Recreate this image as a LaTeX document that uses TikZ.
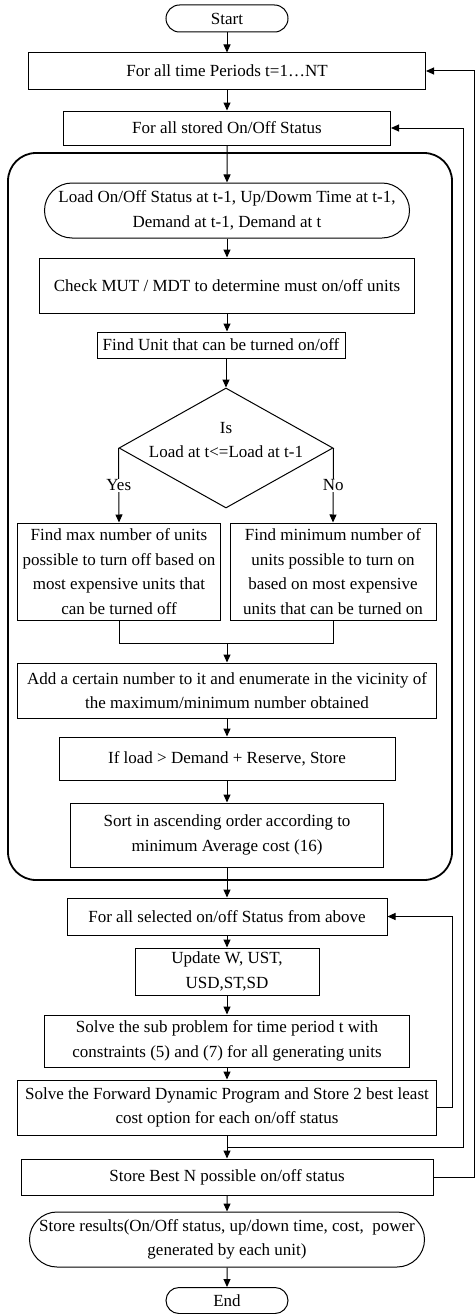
\documentclass[tikz,border=0pt]{standalone}
\usepackage{fontspec}
\setmainfont{Liberation Serif}
\usetikzlibrary{shapes.geometric, shapes.misc, arrows.meta}

\begin{document}
\begin{tikzpicture}[x=1pt, y=-1pt, >={Triangle[length=8pt, width=7pt]}, line width=1pt,
    txt/.style={font=\fontsize{17}{24.5}\selectfont},
    procbox/.style={draw, rectangle, align=center, inner sep=0pt, txt},
    term/.style={procbox, rounded rectangle},
    decision/.style={draw, diamond, inner sep=0pt, minimum width=214pt, minimum height=120pt},
    lbl/.style={fill=white, inner sep=1pt, txt}]
    \useasboundingbox (0,0) rectangle (475,1314);

    % Outer loops
    \node[term, minimum width=122pt, minimum height=27pt] (start) at (227,18.5) {Start};
    \node[procbox, minimum width=397pt, minimum height=36pt] (periods) at (227,71) {For all time Periods t=1\dots NT};
    \node[procbox, minimum width=327pt, minimum height=34pt] (stored) at (227,128) {For all stored On/Off Status};

    % Frame
    \draw[line width=1.8pt, rounded corners=28pt] (8,153) rectangle (452,880);

    % Inside the frame
    \node[term, minimum width=365pt, minimum height=55pt] (load) at (227,210.5) {Load On/Off Status at t-1, Up/Dowm Time at t-1,\\ Demand at t-1, Demand at t};
    \node[procbox, minimum width=375pt, minimum height=55pt] (check) at (227,285.5) {Check MUT / MDT to determine must on/off units};
    \node[procbox, minimum width=248pt, minimum height=26pt] (unit) at (221,345) {Find Unit that can be turned on/off};
    \node[decision] (dec) at (226,448) {};
    \node[align=center, txt] (decTxt) at (226,440) {Is\\ Load at t<=Load at t-1};
    \node[procbox, minimum width=203pt, minimum height=97pt] (yes) at (119,571.5) {Find max number of units\\ possible to turn off based on\\ most expensive units that\\ can be turned off};
    \node[procbox, minimum width=206pt, minimum height=97pt] (no) at (333,571.5) {Find minimum number of\\ units possible to turn on\\ based on most expensive\\ units that can be turned on};
    \node[procbox, minimum width=419pt, minimum height=55pt] (add) at (227,690.5) {Add a certain number to it and enumerate in the vicinity of\\ the maximum/minimum number obtained};
    \node[procbox, minimum width=336pt, minimum height=43pt] (ifload) at (227,758.5) {If load > Demand + Reserve, Store};
    \node[procbox, minimum width=313pt, minimum height=64pt] (sort) at (227,835) {Sort in ascending order according to\\ minimum Average cost (16)};

    % Below the frame
    \node[procbox, minimum width=320pt, minimum height=37pt] (selected) at (227,916.5) {For all selected on/off Status from above};
    \node[procbox, minimum width=184pt, minimum height=47pt] (update) at (227,971.5) {Update W, UST,\\ USD,ST,SD};
    \node[procbox, minimum width=365pt, minimum height=52pt] (sub) at (227,1041) {Solve the sub problem for time period t with\\ constraints (5) and (7) for all generating units};
    \node[procbox, minimum width=419pt, minimum height=55pt] (forward) at (227,1107.5) {Solve the Forward Dynamic Program and Store 2 best least\\ cost option for each on/off status};
    \node[procbox, minimum width=412pt, minimum height=36pt] (best) at (227,1177) {Store Best N possible on/off status};
    \node[term, minimum width=395pt, minimum height=55pt] (results) at (227,1239.5) {Store results(On/Off status, up/down time, cost,~ power\\ generated by each unit)};
    \node[term, minimum width=122pt, minimum height=26pt] (stop) at (227,1300.5) {End};

    % Arrows
    \draw[->] (start) -- (periods);
    \draw[->] (periods) -- (stored);
    \draw[->] (stored) -- (load);
    \draw[->] (load) -- (check);
    \draw[->] (check.south) -- (check.south |- unit.north);
    \draw[->] (unit.south -| dec.north) -- (dec.north);
    \draw[->] (dec.west) -- node[lbl] (yesLbl) {Yes} (yes.north);
    \draw[->] (dec.east) -- node[lbl] (noLbl) {No} (no.north);
    \coordinate (join) at (227,643);
    \draw (yes.south) |- (join);
    \draw (no.south) |- (join);
    \draw[->] (join) -- (add.north);
    \draw[->] (add) -- (ifload);
    \draw[->] (ifload) -- (sort);
    \draw[->] (sort) -- (selected);
    \draw[->] (selected) -- (update);
    \draw[->] (update) -- (sub);
    \draw[->] (sub) -- (forward);
    \draw[->] (forward) -- (best);
    \draw[->] (best) -- (results);
    \draw[->] (results) -- (stop);

    % Feedback
    \draw[->] (forward.east) -- ++(15,0) |- (selected.east);
    \coordinate (join2) at (227,1147);
    \draw[->] (join2) -- ++(236,0) |- (stored.east);
    \draw[->] (best.east) -- ++(40.5,0) |- (periods.east);
\end{tikzpicture}
\end{document}
